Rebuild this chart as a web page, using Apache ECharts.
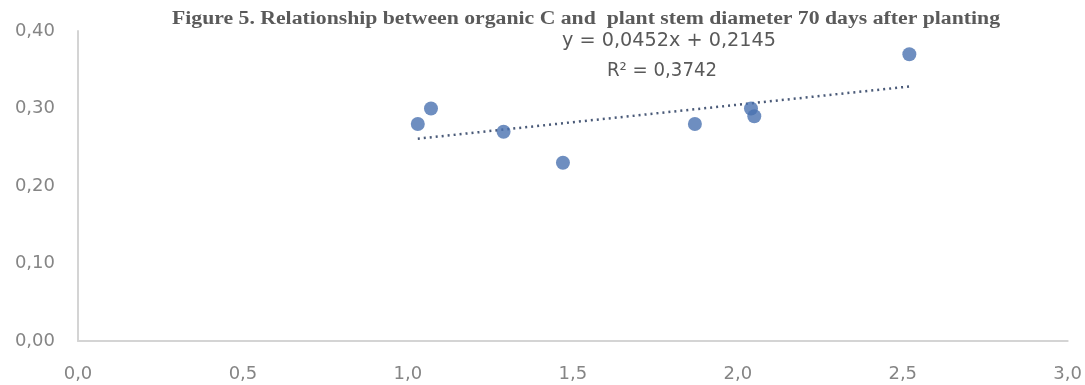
<!DOCTYPE html>
<html>
<head>
<meta charset="utf-8">
<script src="https://cdn.jsdelivr.net/npm/echarts@6/dist/echarts.min.js"></script>
<style>html,body{margin:0;padding:0;background:#fff}#c{width:1085px;height:385px}</style>
</head>
<body>
<div id="c"></div>
<script>
var organicC = [1.03, 1.07, 1.29, 1.47, 1.87, 2.04, 2.05, 2.52];
var stemDiameter = [0.28, 0.30, 0.27, 0.23, 0.28, 0.30, 0.29, 0.37];
var trendSlope = 0.0452;
var trendIntercept = 0.2145;
var xTicks = [0, 0.5, 1, 1.5, 2, 2.5, 3];
var yTicks = [0, 0.1, 0.2, 0.3, 0.4];
var titleText = 'Figure 5. Relationship between organic C and  plant stem diameter 70 days after planting';
var eqText = 'y = 0,0452x + 0,2145';
var r2Text = 'R² = 0,3742';

var pts = organicC.map(function (x, i) { return [x, stemDiameter[i]]; });
var xMin = Math.min.apply(null, organicC), xMax = Math.max.apply(null, organicC);
var trend = [[xMin, trendSlope * xMin + trendIntercept], [xMax, trendSlope * xMax + trendIntercept]];

var ctx = document.createElement('canvas').getContext('2d');
function measure(text, font) { ctx.font = font; return ctx.measureText(text).width; }
var titleFont = 'bold 18px "Liberation Serif", serif';
var eqFont = '19px "DejaVu Sans", sans-serif';
function scaled(text, font, left, top, targetW, fill) {
  var w = measure(text, font);
  var s = targetW / w;
  return { type: 'text', x: left, y: top, scaleX: s, scaleY: 1, originX: 0, originY: 0,
    style: { text: text, font: font, fill: fill, textVerticalAlign: 'middle', verticalAlign: 'middle' } };
}

var chart = echarts.init(document.getElementById('c'));
chart.setOption({
  animation: false,
  graphic: [
    scaled(titleText, titleFont, 172, 19, 828, '#5a5a5a'),
    scaled(eqText, eqFont, 562, 41, 214, '#595959'),
    scaled(r2Text, eqFont, 607, 71, 110, '#595959')
  ],
  grid: { left: 78, right: 17, top: 31, bottom: 44 },
  xAxis: {
    type: 'value', min: xTicks[0], max: xTicks[xTicks.length - 1], interval: 0.5,
    axisLine: { show: true, lineStyle: { color: '#d4d4d4', width: 2 } },
    axisTick: { show: false }, splitLine: { show: false },
    axisLabel: { margin: 24, fontSize: 18, color: '#858585', fontFamily: 'DejaVu Sans',
      formatter: function (v) { return v.toFixed(1).replace('.', ','); } }
  },
  yAxis: {
    type: 'value', min: yTicks[0], max: yTicks[yTicks.length - 1], interval: 0.1,
    axisLine: { show: true, lineStyle: { color: '#d4d4d4', width: 2 } },
    axisTick: { show: false }, splitLine: { show: false },
    axisLabel: { margin: 23, fontSize: 18, color: '#858585', fontFamily: 'DejaVu Sans',
      formatter: function (v) { return v.toFixed(2).replace('.', ','); } }
  },
  series: [
    { type: 'line', data: trend, showSymbol: false, symbol: 'none',
      lineStyle: { type: [2, 4], width: 2.5, color: '#4a5a78' }, z: 1 },
    { type: 'scatter', data: pts, symbolSize: 14, itemStyle: { color: '#4a72b0' }, z: 2 }
  ]
});
</script>
</body>
</html>
